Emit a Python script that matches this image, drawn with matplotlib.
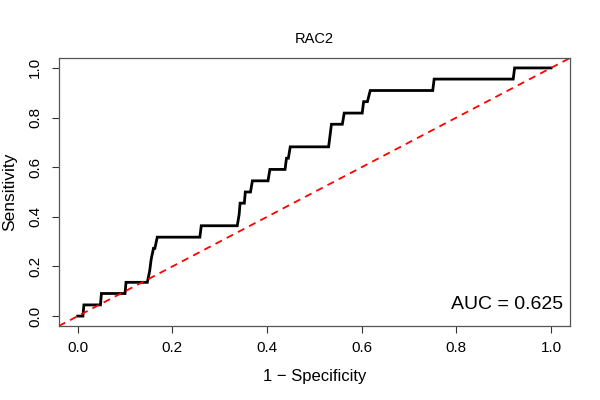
import matplotlib
matplotlib.use("Agg")
import matplotlib.pyplot as plt

title = "RAC2"
auc_label = "AUC = 0.625"
x_ticks = [0.0, 0.2, 0.4, 0.6, 0.8, 1.0]
y_ticks = [0.0, 0.2, 0.4, 0.6, 0.8, 1.0]

fpr = [0.0, 0.011, 0.013, 0.048, 0.050, 0.100, 0.102, 0.147, 0.152, 0.155, 0.160,
       0.163, 0.168, 0.258, 0.261, 0.337, 0.341, 0.343, 0.352, 0.354, 0.365, 0.369,
       0.402, 0.406, 0.438, 0.441, 0.445, 0.449, 0.530, 0.533, 0.536, 0.559, 0.563,
       0.601, 0.604, 0.612, 0.618, 0.750, 0.753, 0.920, 0.923, 1.0]
tpr = [0.0, 0.0, 0.045, 0.045, 0.091, 0.091, 0.136, 0.136, 0.182, 0.227, 0.273,
       0.273, 0.318, 0.318, 0.364, 0.364, 0.409, 0.455, 0.455, 0.5, 0.5, 0.545,
       0.545, 0.591, 0.591, 0.636, 0.636, 0.682, 0.682, 0.727, 0.773, 0.773, 0.818,
       0.818, 0.864, 0.864, 0.909, 0.909, 0.955, 0.955, 1.0, 1.0]

plt.rcParams['font.family'] = ['Liberation Sans', 'DejaVu Sans']

fig = plt.figure(figsize=(6, 4), dpi=100)
ax = fig.add_axes([58.8/600, 1 - 326/400, (570 - 58.8)/600, (326 - 58)/400])

ax.plot(fpr, tpr, color='black', linewidth=2.0, solid_joinstyle='miter')
ax.axline((0, 0), slope=1, color='red', linestyle=(0, (4, 3)), linewidth=1.3)

ax.set_xlim(-0.04, 1.04)
ax.set_ylim(-0.04, 1.04)
ax.set_xticks(x_ticks)
ax.set_yticks(y_ticks)
ax.set_xticklabels([f"{v:.1f}" for v in x_ticks], fontsize=11)
ax.set_yticklabels([f"{v:.1f}" for v in y_ticks], fontsize=11, rotation=90, va='center')
ax.tick_params(axis='x', direction='out', length=5, width=0.8, color='#333333', pad=6)
ax.tick_params(axis='y', direction='out', length=5, width=0.8, color='#333333', pad=7)
for s in ax.spines.values():
    s.set_color('#555555')
    s.set_linewidth(0.9)

ax.set_xlabel("1 \u2212 Specificity", fontsize=12, labelpad=10)
ax.set_ylabel("Sensitivity", fontsize=12.5, labelpad=8)
ax.set_title(title, fontsize=10.5, pad=11)

ax.text(1.026, 0.046, auc_label, ha='right', va='center', fontsize=14)

fig.savefig("out.png", dpi=100)
